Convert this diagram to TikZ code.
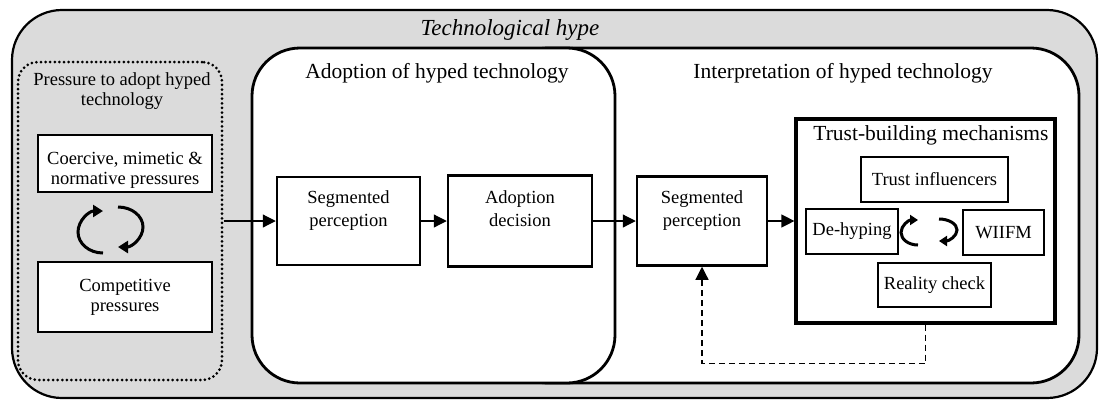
\documentclass[tikz,border=0pt]{standalone}
\usepackage{fontspec}
\setmainfont{Liberation Serif}
\usetikzlibrary{arrows.meta}

\tikzset{
  stage/.style={draw, line width=2.8pt, fill=white, rounded corners=48pt},
  box/.style={draw, line width=2.5pt, fill=white, align=center, inner sep=2pt,
    font=\fontsize{18.5}{20}\selectfont},
  midbox/.style={box, text depth=24pt, font=\fontsize{18.5}{23}\selectfont},
  smallbox/.style={draw, line width=1.5pt, fill=white, align=center, inner sep=2pt,
    minimum height=45pt},
  heading/.style={font=\fontsize{21.5}{24}\selectfont},
  flow/.style={line width=1.2pt, -{Triangle[length=13pt,width=13pt]}},
  cyc/.style={line width=3pt, -{Triangle[length=10pt,width=12pt]}},
  cycsmall/.style={line width=3pt, -{Triangle[length=8pt,width=10pt]}},
}

\begin{document}
\begin{tikzpicture}[x=1pt, y=-1pt, font=\fontsize{18.5}{20}\selectfont]
\useasboundingbox (0,0) rectangle (1099,400);

% 外框
\draw[line width=2.2pt, fill=black!14, rounded corners=50pt] (12,10) rectangle (1097,398);
\node[font=\fontsize{23}{26}\selectfont\itshape] (hype) at (510,30) {Technological hype};

% 压力
\node[draw, line width=3pt, dash pattern=on 0pt off 4.6pt, line cap=round,
  rounded corners=20pt, minimum width=204pt, minimum height=318pt] (pressure) at (120,221) {};
\node[align=center] (pressuretitle) at (122,91) {Pressure to adopt hyped\\technology};
\node[box, text height=45pt, minimum width=174pt, minimum height=57pt] (coercive) at (125,163.5)
  {Coercive, mimetic \&\\normative pressures};
\node[box, minimum width=174pt, minimum height=70pt] (competitive) at (125,297)
  {Competitive\\pressures};
\draw[cyc] (103,253) arc[start angle=270, end angle=90, x radius=25pt, y radius=21pt];
\draw[cyc] (118,207) arc[start angle=90, end angle=-90, x radius=25pt, y radius=20pt];

% 两个阶段
\node[stage, minimum width=579pt, minimum height=335pt] (interpretation) at (789.5,215.5) {};
\node[stage, minimum width=363pt, minimum height=335pt] (adoption) at (433.5,215.5) {};
\node[heading] (adoptiontitle) at (437,73) {Adoption of hyped technology};
\node[heading] (interpretationtitle) at (843,73) {Interpretation of hyped technology};

% 中间的框
\node[midbox, minimum width=143pt, minimum height=88pt] (segA) at (348.5,221) {Segmented\\perception};
\node[midbox, minimum width=144pt, minimum height=91pt] (decision) at (520,221) {Adoption\\decision};
\node[midbox, minimum width=130pt, minimum height=89pt] (segB) at (702,221) {Segmented\\perception};

% 信任机制
\node[draw, line width=3.2pt, fill=white, minimum width=259pt, minimum height=204pt] (trust) at (925.5,221) {};
\node[heading] (trusttitle) at (931,135) {Trust-building mechanisms};
\node[smallbox, minimum width=147pt] (influencers) at (934.5,179.5) {Trust influencers};
\node[smallbox, minimum width=92pt, inner sep=1pt] (dehyping) at (852,231.5) {De-hyping};
\node[smallbox, minimum width=81pt] (wiifm) at (1003.5,232.5) {WIIFM};
\node[smallbox, minimum width=113pt, minimum height=44pt] (reality) at (934.5,285) {Reality check};
\draw[cycsmall] (918,245) arc[start angle=270, end angle=90, x radius=17pt, y radius=12.5pt];
\draw[cycsmall] (939,219) arc[start angle=90, end angle=-90, x radius=18pt, y radius=11pt];

% 箭头
\draw[flow] (pressure) -- (segA);
\draw[flow] (segA) -- (decision);
\draw[flow] (decision) -- (segB);
\draw[flow] (segB) -- (trust);
\draw[flow, dash pattern=on 6pt off 4pt] (trust.south) -- ++(0,39) -| (segB.south);

\end{tikzpicture}
\end{document}
